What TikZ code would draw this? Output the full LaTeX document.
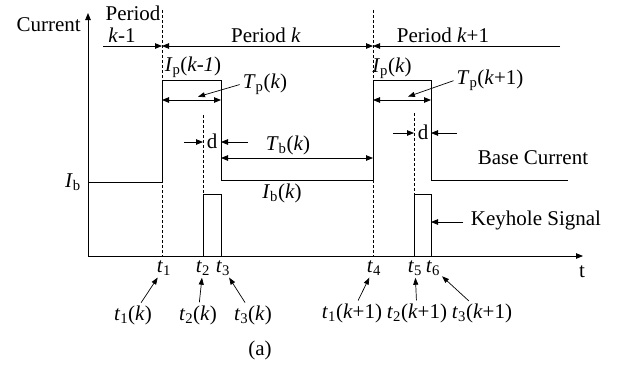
\documentclass[tikz,border=0pt]{standalone}
\usepackage{fontspec}
\setmainfont{Liberation Serif}
\usetikzlibrary{arrows.meta}
\newcommand{\vsub}[2]{\textit{#1}\textsubscript{#2}}

\begin{document}
\begin{tikzpicture}[x=1pt,y=-1pt,
        txt/.style={font=\fontsize{21}{24}\selectfont,inner sep=1pt},
        wave/.style={line width=0.8pt},
        guide/.style={line width=0.6pt,densely dashed},
        tip/.style={-{Triangle[length=7pt,width=5.5pt]},line width=0.8pt},
        both/.style={{Triangle[length=7pt,width=5.5pt]}-{Triangle[length=7pt,width=5.5pt]},line width=0.8pt},
        pointer/.style={-{Triangle[length=7pt,width=5pt]},line width=0.7pt,shorten <=2pt,shorten >=1pt}]
    \useasboundingbox (0,0) rectangle (619,368);

    % axes
    \coordinate (O) at (88,256);
    \coordinate (Ytop) at (88,13);
    \coordinate (Xend) at (583,256);
    \draw[tip] (O) -- (Ytop);
    \draw[tip] (O) -- (Xend);
    \node[txt,left] (cur) at (82,25) {Current};
    \node[txt] (tax) at (582,272) {t};

    % time instants on the axis
    \coordinate (t1) at (162,256);
    \coordinate (t2) at (203,256);
    \coordinate (t3) at (221,256);
    \coordinate (t4) at (373,256);
    \coordinate (t5) at (414,256);
    \coordinate (t6) at (431,256);

    % period borders and keyhole starts
    \draw[guide] (162,10) -- (t1);
    \draw[guide] (373,10) -- (t4);
    \draw[guide] (203,115) -- (t2);
    \draw[guide] (414,113) -- (t5);

    % welding current
    \draw[wave] (88,182) -- (162,182) -- (162,80) -- (221,80) -- (221,180)
        -- (373,180) -- (373,80) -- (431,80) -- (431,180) -- (568,180);

    % keyhole signal
    \draw[wave] (t2) -- (203,194) -- (221,194) -- (t3);
    \draw[wave] (t5) -- (414,194) -- (431,194) -- (t6);

    % periods
    \draw[tip] (103,46) -- (162,46);
    \draw[both] (162,46) -- (373,46);
    \draw[tip] (560,46) -- (373,46);
    \node[txt] (per0) at (133,13) {Period};
    \node[txt] (per0k) at (122,35) {\textit{k}-1};
    \node[txt] (per1) at (266,35) {Period \textit{k}};
    \node[txt] (per2) at (443,35) {Period \textit{k}+1};

    % pulse and base durations
    \draw[both] (162,100) -- (221,100);
    \draw[both] (373,100) -- (431,100);
    \draw[both] (221,158) -- (373,158);
    \node[txt] (ipa) at (193,67) {\vsub{I}{p}(\textit{k-1})};
    \node[txt] (ipb) at (392,68) {\vsub{I}{p}(\textit{k})};
    \node[txt] (tpa) at (265,84) {\vsub{T}{p}(\textit{k})};
    \node[txt] (tpb) at (490,80) {\vsub{T}{p}(\textit{k}+1)};
    \node[txt] (tb) at (288,145) {\vsub{T}{b}(\textit{k})};
    \node[txt] (ibk) at (282,193) {\vsub{I}{b}(\textit{k})};
    \node[txt,left] (ib) at (82,182) {\vsub{I}{b}};
    \coordinate (tpa-end) at (197,97);
    \coordinate (tpb-end) at (407,97);
    \draw[pointer] (tpa.west) -- (tpa-end);
    \draw[pointer] (tpb.west) -- (tpb-end);

    % delay d
    \draw[tip] (184,142) -- (203,142);
    \draw[tip] (248,142) -- (221,142);
    \node[txt] (da) at (212,141) {d};
    \draw[tip] (393,133) -- (414,133);
    \draw[tip] (457,133) -- (431,133);
    \node[txt] (db) at (423,132) {d};

    % signal names
    \node[txt] (base) at (533,158) {Base Current};
    \node[txt] (key) at (536,220) {Keyhole Signal};
    \coordinate (key-end) at (431,222);
    \draw[tip] (463,222) -- (key-end);

    % instant labels
    \node[txt] (lt1) at (164,268) {\vsub{t}{1}};
    \node[txt] (lt2) at (203,268) {\vsub{t}{2}};
    \node[txt] (lt3) at (223,268) {\vsub{t}{3}};
    \node[txt] (lt4) at (374,268) {\vsub{t}{4}};
    \node[txt] (lt5) at (415,268) {\vsub{t}{5}};
    \node[txt] (lt6) at (433,268) {\vsub{t}{6}};

    \node[txt] (t1k) at (133,315) {\vsub{t}{1}(\textit{k})};
    \node[txt] (t2k) at (198,315) {\vsub{t}{2}(\textit{k})};
    \node[txt] (t3k) at (253,315) {\vsub{t}{3}(\textit{k})};
    \node[txt] (t1kk) at (352,313) {\vsub{t}{1}(\textit{k}+1)};
    \node[txt] (t2kk) at (417,313) {\vsub{t}{2}(\textit{k}+1)};
    \node[txt] (t3kk) at (482,313) {\vsub{t}{3}(\textit{k}+1)};
    \draw[pointer] (t1k) -- (lt1);
    \draw[pointer] (t2k) -- (lt2);
    \draw[pointer] (t3k) -- (lt3);
    \draw[pointer] (t1kk) -- (lt4);
    \draw[pointer] (t2kk) -- (lt5);
    \draw[pointer] (t3kk) -- (lt6);

    \node[txt] (cap) at (260,350) {(a)};
\end{tikzpicture}
\end{document}
